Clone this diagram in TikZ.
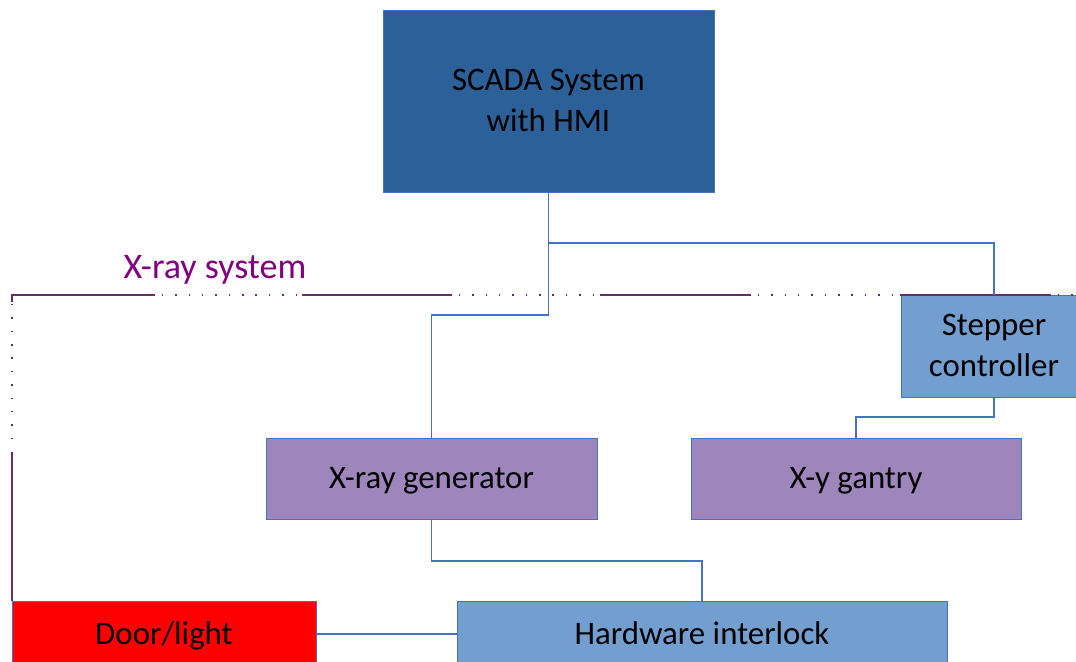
\documentclass[tikz,border=0pt]{standalone}
\usepackage{fontspec}
\setmainfont{Carlito}
\usepackage{tikz}

\definecolor{scadablue}{RGB}{44,96,153}
\definecolor{lightblue}{RGB}{114,159,207}
\definecolor{lilac}{RGB}{158,134,188}
\definecolor{wireblue}{RGB}{68,114,196}
\definecolor{fenceplum}{RGB}{106,45,106}
\definecolor{labelplum}{RGB}{128,0,128}

\begin{document}
\begin{tikzpicture}[x=0.02cm,y=-0.02cm]
\tikzset{every node/.style={inner sep=0pt,font=\fontsize{18.7}{23.5}\selectfont,align=center,text depth=0.1em},
  block/.style={draw=wireblue,line width=0.5pt},
  wire/.style={draw=wireblue,line width=0.6pt},
  fence/.style={draw=fenceplum,line width=0.75pt},
  fencedots/.style={draw=fenceplum,line width=0.9pt,dash pattern=on 0.8pt off 6.8pt}}
\useasboundingbox (0,0) rectangle (1076,662);
% boxes
\node [block,fill=scadablue,minimum width=331*0.02cm,minimum height=182*0.02cm] (scada) at (548.5,101) {SCADA System\\with HMI};
\node [block,fill=lightblue,minimum width=186*0.02cm,minimum height=102*0.02cm] (stepper) at (994,346) {Stepper\\controller};
\node [block,fill=lilac,minimum width=331*0.02cm,minimum height=81*0.02cm] (gen) at (431.5,478.5) {X-ray generator};
\node [block,fill=lilac,minimum width=330*0.02cm,minimum height=81*0.02cm] (gantry) at (856,478.5) {X-y gantry};
\node [block,fill=red,minimum width=304*0.02cm,minimum height=66*0.02cm] (door) at (164,634) {Door/light};
\node [block,fill=lightblue,minimum width=490*0.02cm,minimum height=66*0.02cm] (lock) at (702,634) {Hardware interlock};
% system boundary
\node [text=labelplum,font=\fontsize{20.5}{24}\selectfont] (sys) at (215,268) {X-ray system};
\draw [fence] (12,601) -- (12,452);
\draw [fencedots] (12,439) -- (12,304);
\draw [fence] (12,302) -- (12,295) -- (155,295);
\draw [fencedots] (162,295) -- (302,295);
\draw [fence] (302,295) -- (452,295);
\draw [fencedots] (459,295) -- (600,295);
\draw [fence] (600,295) -- (751,295);
\draw [fencedots] (758,295) -- (900,295);
\draw [fence] (900,295) -- (1051,295);
\draw [fencedots] (1058,295) -- (1076,295);
% wiring
\coordinate (j1) at (548.5,243);
\coordinate (j2) at (548.5,315);
\coordinate (j3) at (994,417);
\coordinate (j4) at (431.5,561);
\draw [wire] (scada.south) -- (j1) -| (stepper.north);
\draw [wire] (j1) -- (j2) -| (gen.north);
\draw [wire] (stepper.south) -- (j3) -| (gantry.north);
\draw [wire] (gen.south) -- (j4) -| (lock.north);
\draw [wire] (door.east) -- (lock.west);
\end{tikzpicture}
\end{document}
